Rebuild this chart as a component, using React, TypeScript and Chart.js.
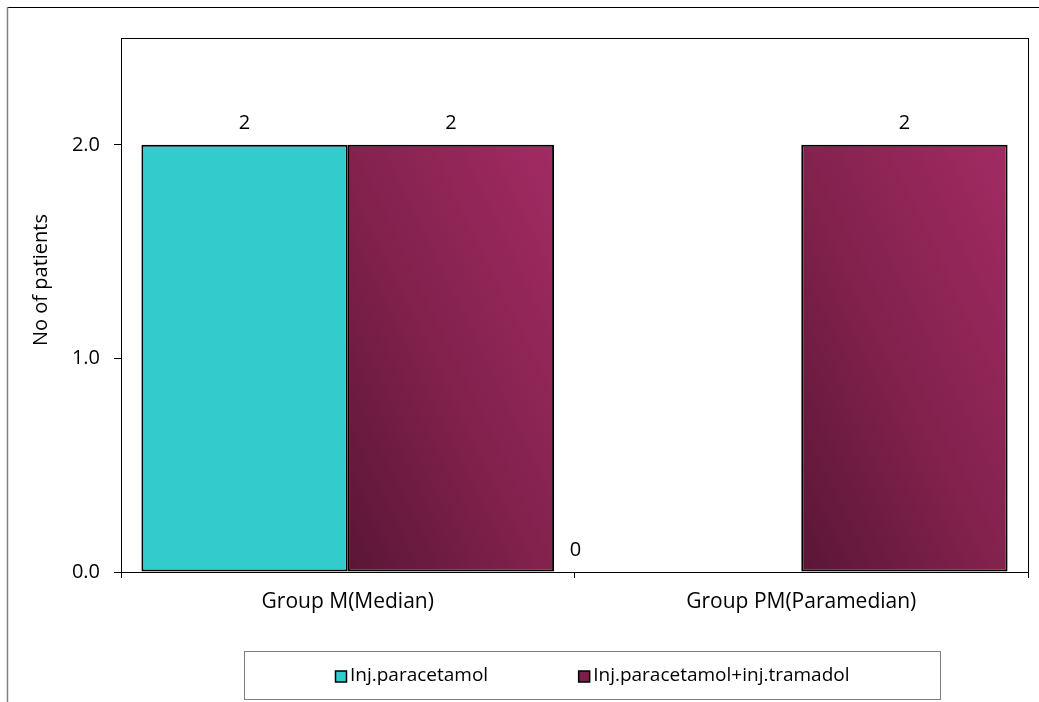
import React, { useEffect, useRef } from "react";
import { Chart, registerables } from "chart.js";

Chart.register(...registerables);

const categories = ["Group M(Median)", "Group PM(Paramedian)"];
const seriesNames = ["Inj.paracetamol", "Inj.paracetamol+inj.tramadol"];
const paracetamol = [2, 0];
const paracetamolTramadol = [2, 2];
const yTickValues = [0, 1, 2];
const yMax = 2.5;
const yTitle = "No of patients";

const FONT = "'Open Sans', sans-serif";
const FONT_SIZE = 20;
const CAT_PCT = 0.91;
const CYAN = "#33cccc";
const MAROON = "#7a1f4a";

function maroonFill(ctx: any) {
  const chart = ctx.chart;
  const xs = chart.scales?.x;
  const ys = chart.scales?.y;
  if (!xs || !ys || ctx.type !== "data") return MAROON;
  const n = categories.length;
  const catW = (xs.right - xs.left) / n;
  const barW = (catW * CAT_PCT) / 2;
  const center = xs.getPixelForValue(ctx.dataIndex);
  const left = center - (catW * CAT_PCT) / 2 + ctx.datasetIndex * barW;
  const right = left + barW;
  const bottom = ys.getPixelForValue(0);
  const top = ys.getPixelForValue(ctx.raw);
  const w = right - left;
  const h = bottom - top;
  if (!(h > 0) || !(w > 0)) return MAROON;
  const cx = (left + right) / 2;
  const cy = (top + bottom) / 2;
  const L = Math.hypot(w, h);
  const nx = h / L;
  const ny = -w / L;
  const d = (w * h) / L;
  const g = chart.ctx.createLinearGradient(cx - nx * d, cy - ny * d, cx + nx * d, cy + ny * d);
  g.addColorStop(0, "#5a1636");
  g.addColorStop(0.5, "#84224e");
  g.addColorStop(1, "#a22b63");
  return g;
}

const decor = {
  id: "decor",
  beforeDraw(chart: any) {
    const c = chart.ctx;
    c.save();
    c.fillStyle = "#ffffff";
    c.fillRect(0, 0, chart.width, chart.height);
    c.restore();
  },
  afterDatasetsDraw(chart: any) {
    const c = chart.ctx;
    const xs = chart.scales.x;
    const catW = (xs.right - xs.left) / categories.length;
    c.save();
    c.font = `${FONT_SIZE}px ${FONT}`;
    c.fillStyle = "#000";
    c.textAlign = "center";
    c.textBaseline = "middle";
    chart.data.datasets.forEach((ds: any, di: number) => {
      const meta = chart.getDatasetMeta(di);
      meta.data.forEach((bar: any, i: number) => {
        const v = ds.data[i];
        let x = bar.x;
        if (v === 0) x = xs.getPixelForValue(i) - catW / 2 + 1;
        c.fillText(String(v), x, bar.y - 22);
      });
    });
    c.restore();
  },
  afterDraw(chart: any) {
    const c = chart.ctx;
    const a = chart.chartArea;
    c.save();
    // outer frame
    c.strokeStyle = "#000";
    c.lineWidth = 1;
    c.beginPath();
    c.moveTo(7, 7.5);
    c.lineTo(chart.width, 7.5);
    c.stroke();
    c.strokeStyle = "#808080";
    c.lineWidth = 1.5;
    c.beginPath();
    c.moveTo(7.5, 7);
    c.lineTo(7.5, chart.height);
    c.stroke();
    // plot border
    c.strokeStyle = "#000";
    c.lineWidth = 1;
    c.strokeRect(Math.round(a.left) + 0.5, Math.round(a.top) + 0.5, Math.round(a.right - a.left), Math.round(a.bottom - a.top));
    // y title
    c.font = `${FONT_SIZE}px ${FONT}`;
    c.fillStyle = "#000";
    c.textAlign = "center";
    c.textBaseline = "middle";
    c.translate(41, 280);
    c.rotate(-Math.PI / 2);
    c.fillText(yTitle, 0, 0);
    c.setTransform(1, 0, 0, 1, 0, 0);
    // legend
    c.font = `19px ${FONT}`;
    const bx = 244, by = 651, bw = 696, bh = 48;
    c.strokeStyle = "#808080";
    c.lineWidth = 1;
    c.strokeRect(bx + 0.5, by + 0.5, bw, bh);
    const sq = 11, gapTxt = 4, gapItem = 90;
    const widths = seriesNames.map((s) => sq + gapTxt + c.measureText(s).width);
    const total = widths.reduce((p, q) => p + q, 0) + gapItem * (widths.length - 1);
    let x = Math.round(bx + bw / 2 - total / 2);
    const cy = by + bh / 2 + 1;
    const colors = [CYAN, MAROON];
    seriesNames.forEach((s, i) => {
      c.fillStyle = colors[i];
      c.fillRect(x + 0.5, cy - sq / 2 + 0.5, sq, sq);
      c.strokeStyle = "#000";
      c.lineWidth = 1.5;
      c.strokeRect(x + 0.5, cy - sq / 2 + 0.5, sq, sq);
      c.fillStyle = "#000";
      c.textAlign = "left";
      c.fillText(s, x + sq + gapTxt, cy);
      x += widths[i] + gapItem;
    });
    c.restore();
  },
};

export default function App() {
  const ref = useRef<HTMLCanvasElement | null>(null);
  useEffect(() => {
    document.body.style.margin = "0";
    const canvas = ref.current;
    if (!canvas) return;
    const chart = new Chart(canvas, {
      type: "bar",
      data: {
        labels: categories,
        datasets: [
          {
            label: seriesNames[0],
            data: paracetamol,
            backgroundColor: CYAN,
            borderColor: "#000",
            borderWidth: 2,
            borderSkipped: false,
          },
          {
            label: seriesNames[1],
            data: paracetamolTramadol,
            backgroundColor: maroonFill,
            borderColor: "#000",
            borderWidth: 2,
            borderSkipped: false,
          },
        ],
      },
      options: {
        responsive: false,
        animation: false,
        devicePixelRatio: 1,
        layout: { padding: { left: 0, top: 38, right: 11, bottom: 0 } },
        datasets: { bar: { categoryPercentage: CAT_PCT, barPercentage: 1 } },
        plugins: {
          legend: { display: false },
          tooltip: { enabled: false },
          title: { display: false },
        },
        scales: {
          x: {
            offset: true,
            grid: {
              offset: true,
              drawOnChartArea: false,
              drawTicks: true,
              tickLength: 6,
              color: "#000",
            },
            border: { display: false },
            ticks: {
              color: "#000",
              font: { family: FONT, size: 21 },
              padding: 11,
              maxRotation: 0,
              autoSkip: false,
            },
            afterFit: (s: any) => {
              s.height = 130;
            },
          },
          y: {
            min: 0,
            max: yMax,
            grid: {
              drawOnChartArea: false,
              drawTicks: true,
              tickLength: 7,
              color: "#000",
            },
            border: { display: false },
            afterBuildTicks: (s: any) => {
              s.ticks = yTickValues.map((v) => ({ value: v }));
            },
            ticks: {
              color: "#000",
              font: { family: FONT, size: FONT_SIZE },
              padding: 14,
              callback: (v: any) => Number(v).toFixed(1),
            },
            afterFit: (s: any) => {
              s.width = 121;
            },
          },
        },
      },
      plugins: [decor],
    });
    return () => chart.destroy();
  }, []);
  return (
    <div style={{ position: "fixed", left: 0, top: 0, width: 1039, height: 702 }}>
      <canvas ref={ref} width={1039} height={702} style={{ display: "block" }} />
    </div>
  );
}
